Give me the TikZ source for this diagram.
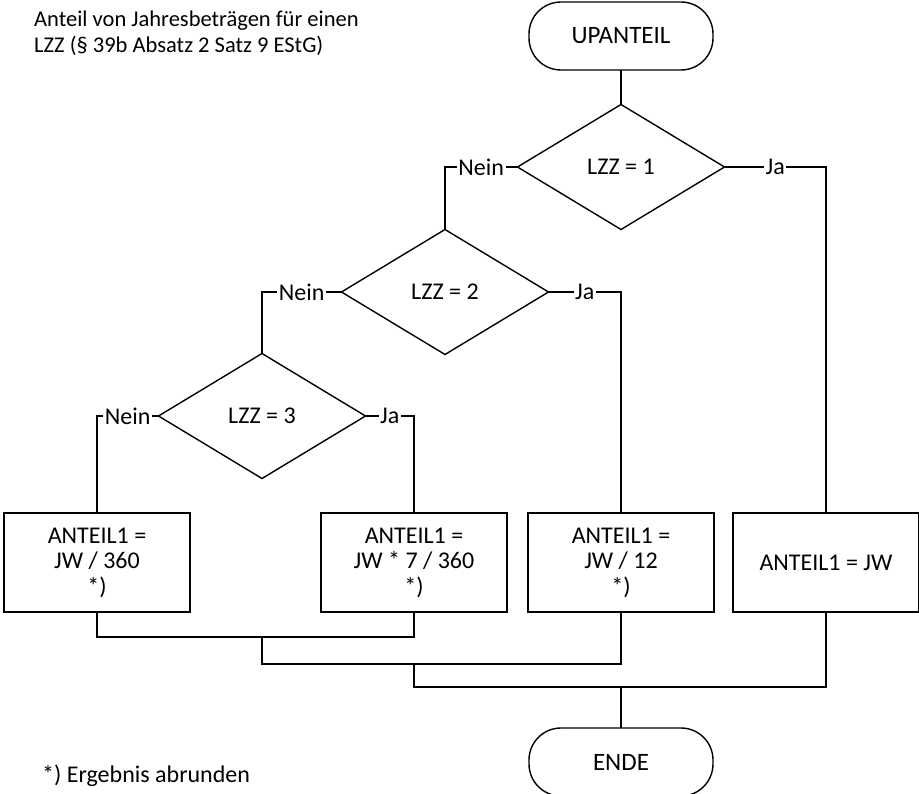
\documentclass[tikz,border=0pt]{standalone}
\usepackage{fontspec}
\setmainfont{Carlito}
\usetikzlibrary{shapes.geometric}
\begin{document}
\begin{tikzpicture}[x=1pt,y=-1pt,
  every node/.style={font=\fontsize{24}{25.5}\selectfont},
  line/.style={line width=1.4pt},
  term/.style={draw, line width=1.4pt, rounded corners=32pt, minimum width=184pt, minimum height=68pt, outer sep=0pt, font=\fontsize{25}{26}\selectfont},
  dec/.style={draw, diamond, line width=1.4pt, minimum width=207pt, minimum height=125pt, inner sep=0pt, outer sep=0pt},
  proc/.style={draw, rectangle, line width=1.4pt, minimum width=186pt, minimum height=99pt, align=center, outer sep=0pt},
  lab/.style={fill=white, inner sep=1.5pt}]
\useasboundingbox (0,0) rectangle (919,794);

\node[anchor=north west, align=left, inner sep=0pt, font=\fontsize{22.5}{26}\selectfont] (title) at (34,11)
  {Anteil von Jahresbeträgen für einen\\LZZ (§ 39b Absatz 2 Satz 9 EStG)};

\node[term] (start) at (621,36) {UPANTEIL};
\node[dec] (d1) at (621,167) {LZZ = 1};
\node[dec] (d2) at (445,292) {LZZ = 2};
\node[dec] (d3) at (262,416) {LZZ = 3};
\node[proc] (b1) at (97,562.5) {ANTEIL1 =\\JW / 360\\*)};
\node[proc] (b2) at (414,562.5) {ANTEIL1 =\\JW * 7 / 360\\*)};
\node[proc] (b3) at (621,562.5) {ANTEIL1 =\\JW / 12\\*)};
\node[proc] (b4) at (826,562.5) {ANTEIL1 = JW};
\node[term] (end) at (621,762) {ENDE};

\node[anchor=base west, inner sep=0pt] (note) at (42,782) {*) Ergebnis abrunden};

\coordinate (j1) at (262,637);
\coordinate (j2) at (414,664);
\coordinate (j3) at (621,687);

\draw[line] (start) -- (d1);
\draw[line] (d1.west) -| node[lab, pos=0.25] {Nein} (d2.north);
\draw[line] (d1.east) -| node[lab, pos=0.25] {Ja} (b4.north);
\draw[line] (d2.west) -| node[lab, pos=0.25] {Nein} (d3.north);
\draw[line] (d2.east) -| node[lab, pos=0.25] {Ja} (b3.north);
\draw[line] (d3.west) -| node[lab, pos=0.25] {Nein} (b1.north);
\draw[line] (d3.east) -| node[lab, pos=0.25] {Ja} (b2.north);

\draw[line] (b1.south) |- (j1) -| (b2.south);
\draw[line] (j1) |- (j2) -| (b3.south);
\draw[line] (j2) |- (j3) -| (b4.south);
\draw[line] (j3) -- (end);
\end{tikzpicture}
\end{document}
